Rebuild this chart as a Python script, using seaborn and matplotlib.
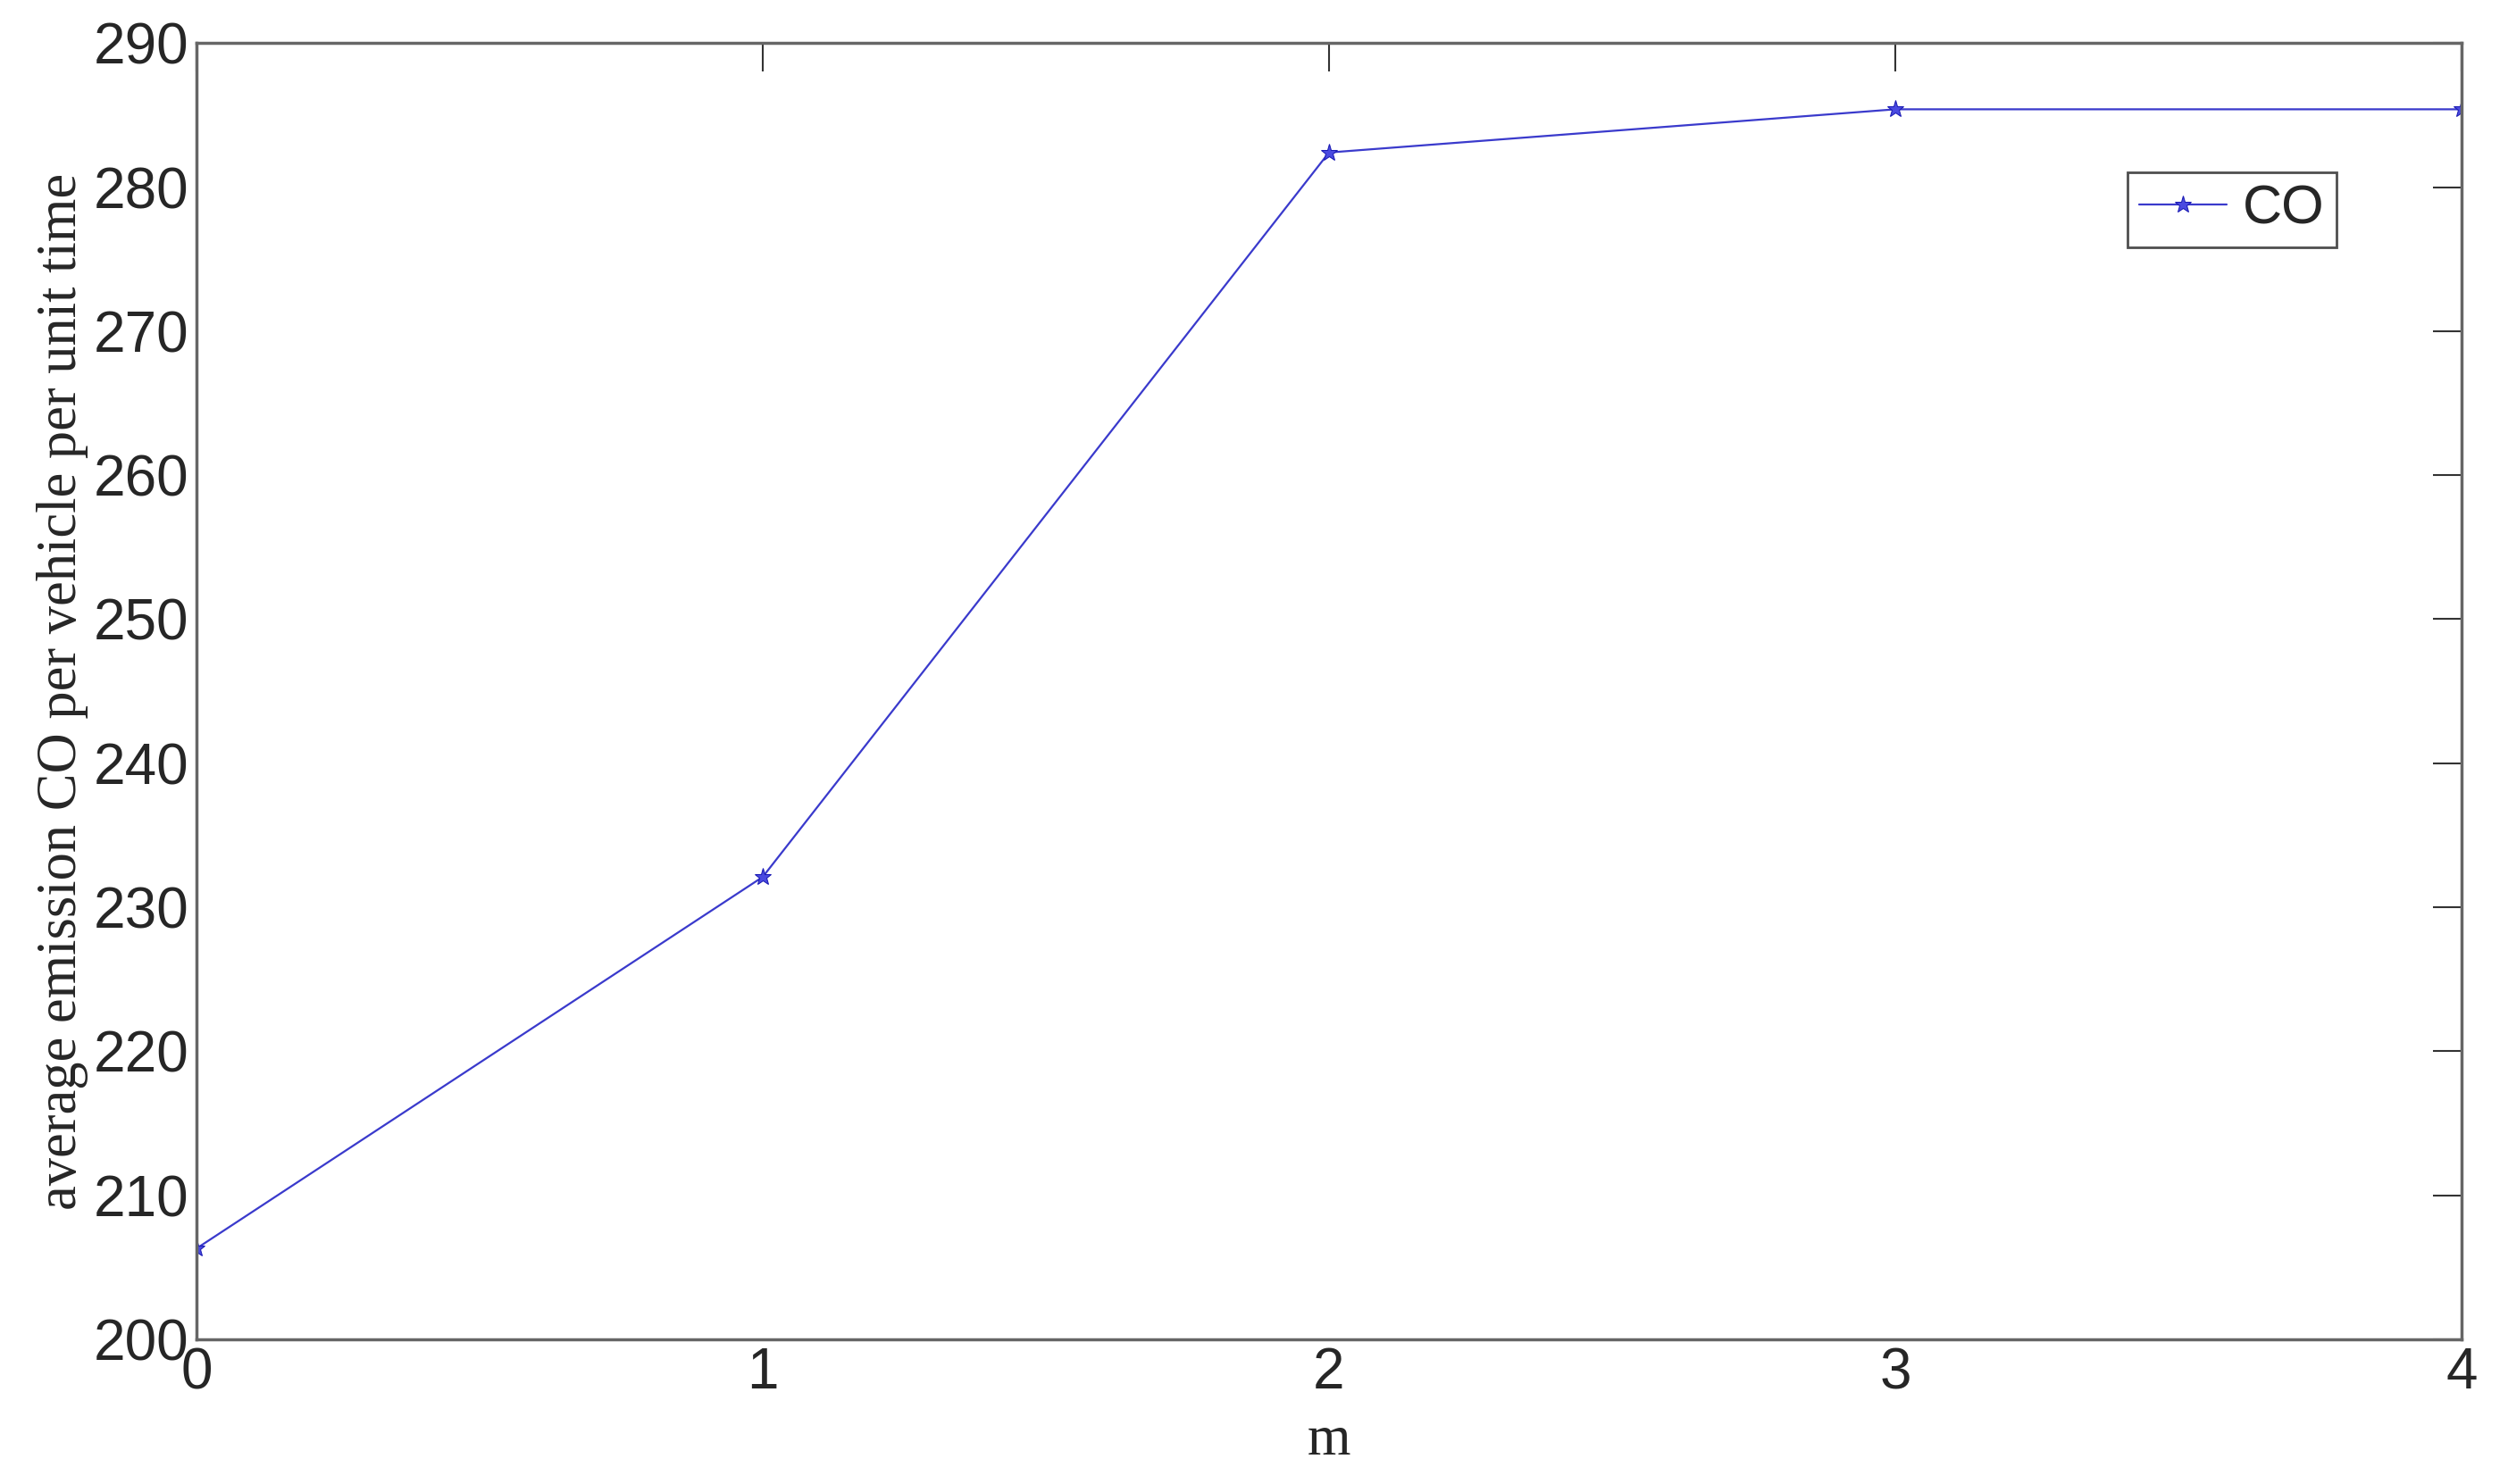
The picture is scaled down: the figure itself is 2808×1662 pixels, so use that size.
import pandas as pd
import seaborn as sns
from matplotlib import pyplot as plt

m = [0, 1, 2, 3, 4]
co = [206.3, 232.1, 282.4, 285.4, 285.4]

df = pd.DataFrame({"m": m, "CO": co})

sns.set_style("white")
plt.rcParams['font.family'] = ['Liberation Sans', 'DejaVu Sans']

fig = plt.figure(figsize=(28.08, 16.62), dpi=100)
ax = fig.add_axes([0.0783, 0.0975, 0.9032, 0.8735])

sns.lineplot(data=df, x="m", y="CO", ax=ax, color="#3a3acc", linewidth=1.6,
             marker="*", markersize=14, markeredgecolor="#1a1ab4",
             markerfacecolor="#4a4ae0", label="CO")

ax.set_xlim(0, 4)
ax.set_ylim(200, 290)
ax.set_xticks([0, 1, 2, 3, 4])
ax.set_yticks(range(200, 291, 10))
ax.tick_params(direction="in", length=23, width=1.5, labelsize=46,
               top=True, right=True, color="#333333", pad=6)
for s in ax.spines.values():
    s.set_color("#666666")
    s.set_linewidth(2.5)

ax.set_xlabel("m", family="Liberation Serif", fontsize=45, labelpad=12)
ax.set_ylabel("average emission CO per vehicle per unit time",
              family="Liberation Serif", fontsize=45, labelpad=4)

leg = ax.legend(loc="upper right", bbox_to_anchor=(0.957, 0.921), fontsize=44,
                frameon=True, fancybox=False, handlelength=1.6,
                handletextpad=0.3, borderpad=0.22)
leg.get_frame().set_edgecolor("#222222")
leg.get_frame().set_linewidth(2)

fig.savefig("out.png", dpi=100)
